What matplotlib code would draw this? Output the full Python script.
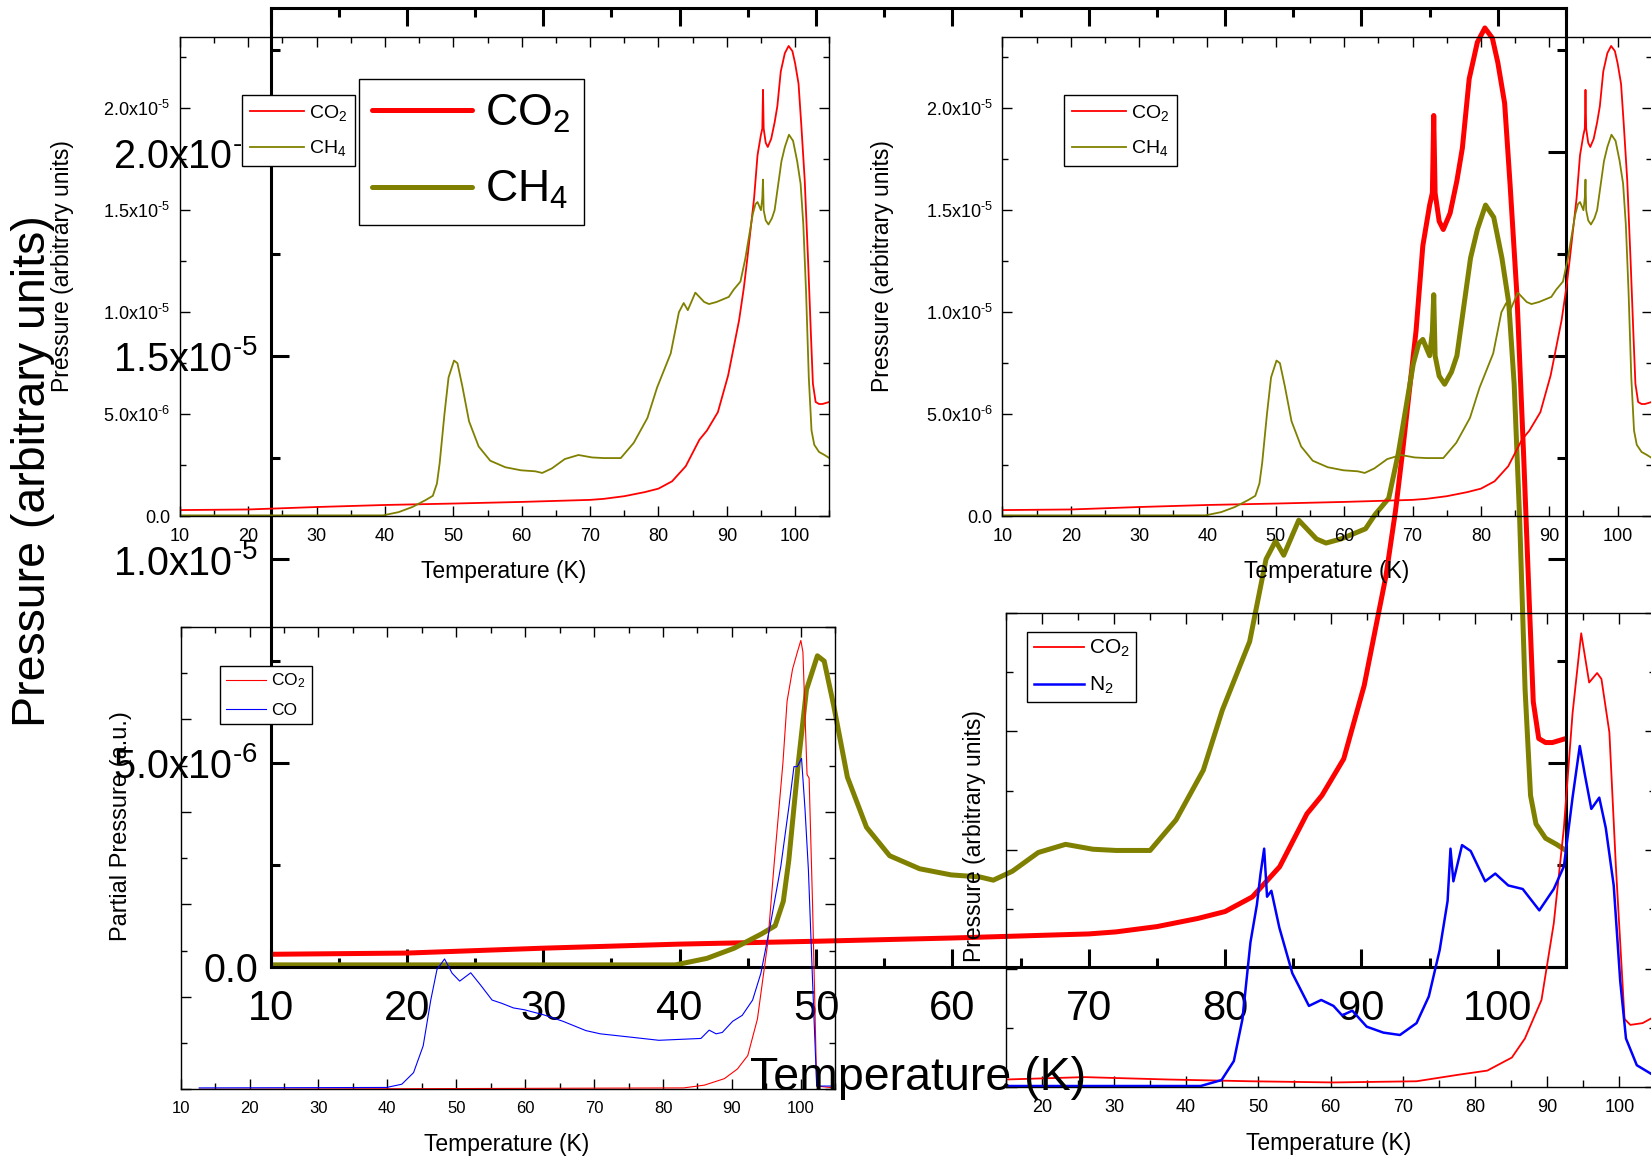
import numpy as np
import matplotlib
matplotlib.use("Agg")
import matplotlib.pyplot as plt
from matplotlib.ticker import MultipleLocator, FixedLocator, NullFormatter

plt.rcParams['font.family'] = ['Liberation Sans', 'DejaVu Sans']
plt.rcParams['mathtext.fontset'] = 'custom'
plt.rcParams['mathtext.rm'] = 'Liberation Sans'
plt.rcParams['mathtext.it'] = 'Liberation Sans:italic'
plt.rcParams['mathtext.bf'] = 'Liberation Sans:bold'
plt.rcParams['mathtext.sf'] = 'Liberation Sans'

# ---------------- data (CO2 / CH4 mixture, pressure in 1e-6 a.u.) ----------------
co2_T = [10, 20, 30, 40, 50, 60, 70, 72, 75, 78, 80, 82, 84, 86, 87.1, 88.7, 90.2, 91.8,
         92.5, 93.0, 93.5, 94.0, 94.5, 95.0, 95.2, 95.3, 95.4, 95.7, 96.0, 96.5, 97.0,
         97.4, 97.9, 98.5, 99.05, 99.6, 100.0, 100.5, 100.9, 101.4, 101.9, 102.3, 102.6,
         103.0, 103.5, 104.0, 105]
co2_P = [0.30, 0.33, 0.45, 0.55, 0.62, 0.70, 0.80, 0.85, 0.98, 1.18, 1.35, 1.71, 2.45, 3.75,
         4.2, 5.1, 6.9, 9.6, 11.2, 12.6, 14.1, 15.6, 17.7, 18.7, 19.0, 20.9, 19.0, 18.3, 18.1,
         18.5, 19.3, 20.1, 21.8, 22.7, 23.05, 22.8, 22.2, 21.2, 19.2, 16.5, 12.5, 9.0, 6.5,
         5.6, 5.5, 5.5, 5.6]

ch4_T = [10, 39.7, 42, 44, 46, 47, 47.6, 48.0, 48.7, 49.3, 50.1, 50.6, 51.3, 52.3, 53.7,
         55.4, 57.6, 59.9, 62, 63.0, 64.4, 66.3, 68.3, 70.3, 72, 74.5, 76.4, 78.4, 79.8,
         81.8, 83.0, 83.7, 84.3, 85.4, 86.7, 87.4, 88.5, 90.3, 91.0, 92.0, 92.7, 93.3, 93.8,
         94.2, 94.5, 95.0, 95.2, 95.3, 95.4, 95.7, 96.1, 96.6, 97.0, 97.5, 98.0, 98.5, 99.1,
         99.7, 100.3, 100.8, 101.2, 101.6, 102.0, 102.4, 102.8, 103.5, 104.3, 105]
ch4_P = [0.04, 0.04, 0.2, 0.45, 0.8, 1.0, 1.6, 2.6, 5.0, 6.8, 7.63, 7.5, 6.4, 4.65, 3.42,
         2.72, 2.4, 2.25, 2.2, 2.12, 2.34, 2.8, 3.0, 2.88, 2.85, 2.85, 3.6, 4.82, 6.3,
         7.98, 10.0, 10.45, 10.1, 10.96, 10.5, 10.4, 10.5, 10.75, 11.1, 11.5, 12.6, 13.8, 14.8,
         15.3, 15.4, 15.0, 15.6, 16.5, 15.0, 14.5, 14.3, 14.6, 15.0, 16.2, 17.4, 18.1, 18.7,
         18.4, 17.4, 16.3, 14.3, 11.0, 6.8, 4.2, 3.5, 3.15, 3.0, 2.85]

# ---------------- CO2 / CO (partial pressure, a.u.) ----------------
co_T = [12.7, 39.9, 42.1, 43.8, 45.2, 46.3, 47.2, 48.3, 49.4, 50.5, 52.1, 53.5, 55.2, 56.6,
        58.3, 59.9, 62.7, 65.5, 68.8, 70.9, 75.8, 79.4, 85.5, 86.7, 87.7, 88.6, 90.1, 91.5,
        93.0, 94.2, 95.6, 97.1, 98.3, 99.0, 99.5, 100.1, 100.6, 101.1, 101.7, 102.3, 104.8]
co_P = [0.03, 0.04, 0.11, 0.36, 0.94, 1.93, 2.59, 2.82, 2.51, 2.34, 2.52, 2.26, 1.93, 1.86,
        1.76, 1.72, 1.61, 1.47, 1.27, 1.20, 1.12, 1.06, 1.10, 1.28, 1.20, 1.23, 1.47, 1.60,
        1.93, 2.51, 3.58, 4.83, 6.15, 6.98, 6.98, 7.16, 6.07, 4.74, 2.34, 0.07, 0.07]
bl_co2_T = [12.7, 83.0, 86.0, 88.9, 90.8, 92.3, 93.7, 95.2, 96.1, 97.4, 98.0, 98.8, 99.5,
            100.0, 100.3, 100.9, 101.2, 101.7, 102.3, 104.8]
bl_co2_P = [0.0, 0.03, 0.09, 0.23, 0.44, 0.73, 1.52, 3.17, 4.83, 7.06, 8.39, 9.09, 9.46,
            9.71, 9.46, 6.81, 6.73, 4.0, 0.07, 0.03]

# ---------------- CO2 / N2 (arbitrary units) ----------------
n2_T = [15.1, 42.0, 44.9, 46.6, 47.8, 48.9, 49.8, 50.3, 50.8, 51.2, 51.8, 52.9, 54.7, 57.0,
        58.7, 60.4, 61.6, 63.0, 65.0, 67.3, 69.6, 71.9, 73.6, 75.1, 76.2, 76.6, 77.0, 78.2,
        79.4, 81.4, 82.8, 84.6, 86.6, 88.9, 90.9, 92.3, 93.5, 94.5, 95.2, 96.1, 97.2, 98.1,
        99.2, 100.1, 100.9, 102.4, 105]
n2_P = [0.02, 0.02, 0.12, 0.44, 1.15, 2.44, 3.08, 3.6, 4.02, 3.21, 3.31, 2.69, 1.92, 1.37,
        1.47, 1.37, 1.21, 1.29, 1.02, 0.92, 0.88, 1.08, 1.53, 2.31, 3.14, 4.02, 3.47, 4.08,
        3.98, 3.47, 3.6, 3.4, 3.34, 2.98, 3.34, 3.72, 4.88, 5.75, 5.27, 4.69, 4.88, 4.37,
        3.4, 1.79, 0.82, 0.37, 0.18]
br_co2_T = [15.1, 25.9, 37.4, 48.9, 60.4, 71.9, 77.7, 81.7, 85.1, 86.9, 89.2, 90.9, 92.3,
            93.5, 94.7, 95.8, 96.9, 97.5, 98.6, 99.5, 100.7, 101.5, 103.2, 105]
br_co2_P = [0.13, 0.17, 0.13, 0.10, 0.08, 0.10, 0.21, 0.28, 0.5, 0.82, 1.47, 2.76, 4.37,
            6.3, 7.65, 6.82, 6.98, 6.88, 5.98, 3.72, 1.15, 1.05, 1.08, 1.2]

ytick_vals = [0, 5e-6, 1e-5, 1.5e-5, 2e-5]
ytick_labels = ['0.0', r'$\mathregular{5.0x10^{\text{-}6}}$', r'$\mathregular{1.0x10^{\text{-}5}}$',
                r'$\mathregular{1.5x10^{\text{-}5}}$', r'$\mathregular{2.0x10^{\text{-}5}}$']
lab_co2 = r'CO$_\mathregular{2}$'
lab_ch4 = r'CH$_\mathregular{4}$'
lab_co = 'CO'
lab_n2 = r'N$_\mathregular{2}$'
xlab = 'Temperature (K)'
ylab = 'Pressure (arbitrary units)'
ylab_pp = 'Partial Pressure (a.u.)'

RED = '#ff0000'
OLIVE = '#808000'
BLUE = '#0000ff'

co2_Pa = np.array(co2_P) * 1e-6
ch4_Pa = np.array(ch4_P) * 1e-6

W, H = 1651, 1160
fig = plt.figure(figsize=(W / 100, H / 100), dpi=100)
fig.patch.set_facecolor('white')


def rect(l, t, r, b):
    return [l / W, 1 - b / H, (r - l) / W, (b - t) / H]


def style(ax, lw, maj, mnr, xsize, ysize, xpad, ypad):
    ax.set_facecolor('none')
    for s in ax.spines.values():
        s.set_linewidth(lw)
    ax.tick_params(which='both', direction='in', top=True, right=True, width=lw)
    ax.tick_params(which='major', length=maj)
    ax.tick_params(which='minor', length=mnr)
    ax.tick_params(axis='x', which='both', pad=xpad, labelsize=xsize)
    ax.tick_params(axis='y', which='both', pad=ypad, labelsize=ysize)


def legend(ax, handles, labels, x, y, fs, hl, ls, bp, htp):
    leg = ax.legend(handles, labels, loc='upper left', bbox_to_anchor=(x / W, 1 - y / H),
                    bbox_transform=fig.transFigure, borderaxespad=0, fontsize=fs,
                    frameon=True, fancybox=False, edgecolor='black', framealpha=1,
                    handlelength=hl, labelspacing=ls, borderpad=bp, handletextpad=htp)
    leg.get_frame().set_linewidth(1.0)
    return leg


# ---------------- big central axes ----------------
axB = fig.add_axes(rect(270.6, 8, 1566, 966.5))
l1, = axB.plot(co2_T, co2_Pa, color=RED, lw=3.6, solid_capstyle='round', solid_joinstyle='round')
l2, = axB.plot(ch4_T, ch4_Pa, color=OLIVE, lw=3.6, solid_capstyle='round', solid_joinstyle='round')
axB.set_xlim(10, 105)
axB.set_ylim(0, 2.354e-5)
axB.xaxis.set_major_locator(MultipleLocator(10))
axB.xaxis.set_minor_locator(MultipleLocator(5))
axB.yaxis.set_major_locator(FixedLocator(ytick_vals))
axB.set_yticklabels(ytick_labels)
axB.yaxis.set_minor_locator(MultipleLocator(2.5e-6))
style(axB, 2.2, 13, 6.5, 30, 28.5, 16, 9)
legend(axB, [l1, l2], [lab_co2, lab_ch4], 358.7, 79, 32, 2.25, 0.78, 0.3, 0.3)
fig.text(32.6 / W, 1 - 471 / H, ylab, rotation=90, ha='center', va='center', fontsize=33.5)
fig.text(918 / W, 1 - 1078 / H, xlab, ha='center', va='center', fontsize=33.5)


# ---------------- top panels (same CO2/CH4 data) ----------------
def top_panel(left, legx, ylx, xlx):
    ax = fig.add_axes(rect(left, 36.8, left + 649.4, 516.2))
    a, = ax.plot(co2_T, co2_Pa, color=RED, lw=1.3)
    b, = ax.plot(ch4_T, ch4_Pa, color=OLIVE, lw=1.3)
    ax.set_xlim(10, 105)
    ax.set_ylim(0, 2.35e-5)
    ax.xaxis.set_major_locator(MultipleLocator(10))
    ax.xaxis.set_minor_locator(MultipleLocator(5))
    ax.yaxis.set_major_locator(FixedLocator(ytick_vals))
    ax.set_yticklabels(ytick_labels)
    ax.yaxis.set_minor_locator(MultipleLocator(2.5e-6))
    style(ax, 1.0, 7, 4, 13, 13, 8.5, 7)
    legend(ax, [a, b], [lab_co2, lab_ch4], legx, 95, 14, 2.75, 0.8, 0.4, 0.3)
    fig.text(ylx / W, 1 - 266 / H, ylab, rotation=90, ha='center', va='center', fontsize=16.5)
    fig.text(xlx / W, 1 - 571.8 / H, xlab, ha='center', va='center', fontsize=16.5)
    return ax


axTL = top_panel(179.9, 242.3, 63, 503.8)
axTR = top_panel(1002.4, 1064.3, 882.4, 1326.2)

# ---------------- bottom-left: CO2 / CO ----------------
axBL = fig.add_axes(rect(180.6, 627, 835.3, 1089.3))
c, = axBL.plot(bl_co2_T, bl_co2_P, color=RED, lw=0.8)
d, = axBL.plot(co_T, co_P, color=BLUE, lw=0.8)
axBL.set_xlim(10, 105)
axBL.set_ylim(0, 10)
axBL.xaxis.set_major_locator(MultipleLocator(10))
axBL.xaxis.set_minor_locator(MultipleLocator(5))
axBL.yaxis.set_major_locator(MultipleLocator(2))
axBL.yaxis.set_minor_locator(MultipleLocator(1))
axBL.yaxis.set_major_formatter(NullFormatter())
style(axBL, 1.0, 7, 4, 12, 12, 8.5, 5)
legend(axBL, [c, d], [lab_co2, lab_co], 220, 665.7, 12.5, 2.3, 0.7, 0.35, 0.3)
fig.text(121 / W, 1 - 826 / H, ylab_pp, rotation=90, ha='center', va='center', fontsize=17)
fig.text(507 / W, 1 - 1145 / H, xlab, ha='center', va='center', fontsize=16.5)

# ---------------- bottom-right: CO2 / N2 ----------------
axBR = fig.add_axes(rect(1005.6, 612.5, 1655.6, 1087.2))
e, = axBR.plot(br_co2_T, br_co2_P, color=RED, lw=1.3)
f, = axBR.plot(n2_T, n2_P, color=BLUE, lw=1.8)
axBR.set_xlim(15, 105)
axBR.set_ylim(0, 8)
axBR.xaxis.set_major_locator(MultipleLocator(10))
axBR.xaxis.set_minor_locator(MultipleLocator(5))
axBR.yaxis.set_major_locator(MultipleLocator(2))
axBR.yaxis.set_minor_locator(MultipleLocator(1))
axBR.yaxis.set_major_formatter(NullFormatter())
style(axBR, 1.0, 8, 5, 13, 13, 8.5, 5)
legend(axBR, [e, f], [lab_co2, lab_n2], 1027.3, 631.7, 15, 2.4, 0.75, 0.3, 0.25)
fig.text(975 / W, 1 - 836.5 / H, ylab, rotation=90, ha='center', va='center', fontsize=16.5)
fig.text(1329 / W, 1 - 1143.8 / H, xlab, ha='center', va='center', fontsize=16.5)

fig.savefig('out.png', dpi=100)
